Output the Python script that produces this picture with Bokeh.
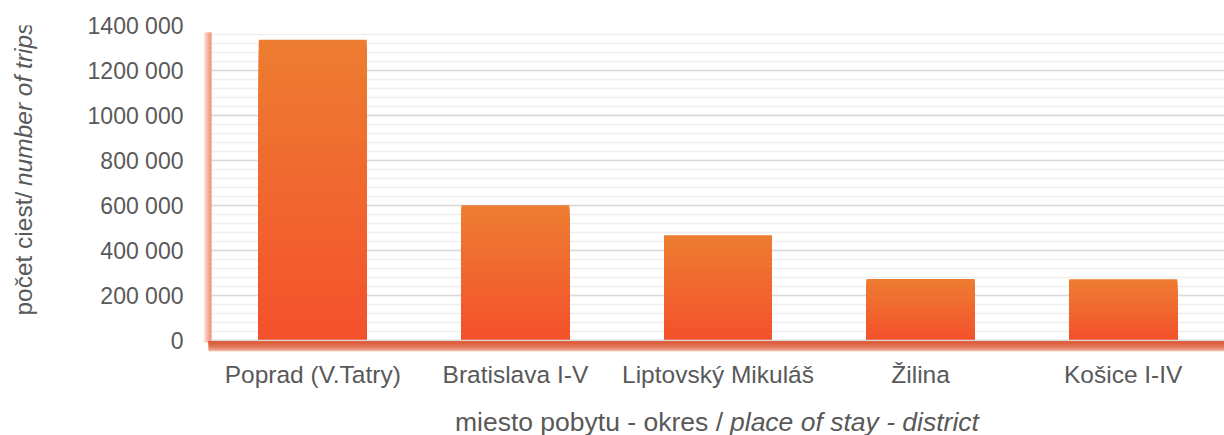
import math
from bokeh.plotting import figure
from bokeh.models import Range1d, FixedTicker
from bokeh.layouts import row, column
from bokeh.core.properties import value
from bokeh.embed import file_html
from bokeh.resources import INLINE

# ---------------- data ----------------
categories = ["Poprad (V.Tatry)", "Bratislava I-V", "Liptovský Mikuláš", "Žilina", "Košice I-IV"]
trips = [1337000, 601000, 468000, 274000, 272000]
y_ticks = [0, 200000, 400000, 600000, 800000, 1000000, 1200000, 1400000]
y_tick_labels = ["0", "200 000", "400 000", "600 000", "800 000", "1000 000", "1200 000", "1400 000"]
y_title_normal = "počet ciest/"
y_title_italic = "number of trips"
x_title_normal = "miesto pobytu - okres /"
x_title_italic = "place of stay - district"

# ---------------- geometry / style ----------------
TOTAL_W, TOTAL_H = 1224, 435
YT_W = 45                 # width of the y-title strip
XT_H = 45                 # height of the x-title strip
W, H = TOTAL_W - YT_W, TOTAL_H - XT_H
BORDER_L, BORDER_T = 203 - YT_W, 25
FRAME_BOTTOM = 353
BORDER_B = H - FRAME_BOTTOM
GLOW_PX = 8
BAND_PX = 11
FONT = "Liberation Sans"
TXT = "#595959"
TOP_C = (0xED, 0x7D, 0x31)
BOT_C = (0xF4, 0x51, 0x2C)

n = len(categories)
frame_w = W - BORDER_L
frame_h = H - BORDER_T - BORDER_B
ppx = 202.6                                    # px per category
upp = y_ticks[-1] / (frame_h - BAND_PX)        # data units per px (y)
x0 = -0.5 - GLOW_PX / ppx
x1 = x0 + frame_w / ppx
y0 = -BAND_PX * upp
y1 = y_ticks[-1]

p = figure(width=W, height=H, output_backend="svg", toolbar_location=None, title=None,
           x_range=Range1d(x0, x1), y_range=Range1d(y0, y1),
           min_border_left=BORDER_L, min_border_right=0,
           min_border_top=BORDER_T, min_border_bottom=BORDER_B)
p.outline_line_color = None
p.background_fill_color = "white"
p.border_fill_color = "white"

# grid
p.xgrid.grid_line_color = None
p.yaxis.ticker = FixedTicker(ticks=y_ticks, minor_ticks=list(range(0, y_ticks[-1] + 1, 40000)))
p.ygrid.grid_line_color = "#D9D9D9"
p.ygrid.grid_line_width = 1.5
p.ygrid.minor_grid_line_color = "#EFEFEF"
p.ygrid.minor_grid_line_width = 1.5

# axes
p.yaxis.major_label_overrides = {t: l for t, l in zip(y_ticks, y_tick_labels)}
p.xaxis.ticker = FixedTicker(ticks=list(range(n)))
p.xaxis.major_label_overrides = {i: c for i, c in enumerate(categories)}
for ax in (p.xaxis, p.yaxis):
    ax.axis_line_color = None
    ax.major_tick_line_color = None
    ax.minor_tick_line_color = None
    ax.major_label_text_font = FONT
    ax.major_label_text_color = TXT
p.yaxis.major_label_text_font_size = "23px"
p.yaxis.major_label_standoff = 14
p.xaxis.major_label_text_font_size = "24.5px"
p.xaxis.major_label_standoff = 3

# white mask over grid in glow strip
p.quad(left=[x0], right=[-0.5], bottom=[y0], top=[y1], fill_color="white", line_color=None)

# left glow (overlapping layers -> stronger near the plot edge)
for k in range(GLOW_PX):
    p.quad(left=[-0.5 - (k + 1) / ppx], right=[-0.5], bottom=[-2 * upp], top=[y1 - 7 * upp],
           fill_color="#EC6340", fill_alpha=0.13, line_color=None)

# gradient bars (stacked overlapping layers, each drawn from 0 to its top)
NSEG = 60
for s in range(NSEG):
    f = s / (NSEG - 1)
    col = "#%02x%02x%02x" % tuple(int(round(TOP_C[j] + (BOT_C[j] - TOP_C[j]) * f)) for j in range(3))
    p.vbar(x=list(range(n)), width=0.533, bottom=0,
           top=[v * (1 - s / NSEG) for v in trips], fill_color=col, line_color=None)

# baseline
p.segment(x0=[-0.5], x1=[x1], y0=[0], y1=[0], line_color="#D9D9D9", line_width=1.5)

# bottom red band (overlapping layers)
for k in range(BAND_PX):
    p.quad(left=[-0.5 - 3 / ppx], right=[x1], top=[-0.8 * upp], bottom=[-(k + 1.8) * upp],
           fill_color="#D9502C", fill_alpha=0.22, line_color=None)


def strip(width, height, yr):
    f = figure(width=width, height=height, output_backend="svg", toolbar_location=None, title=None,
               x_range=Range1d(0, width), y_range=yr,
               min_border=0, min_border_left=0, min_border_right=0,
               min_border_top=0, min_border_bottom=0)
    f.axis.visible = False
    f.grid.visible = False
    f.outline_line_color = None
    f.background_fill_color = "white"
    f.border_fill_color = "white"
    return f


# y-axis title strip: its frame is aligned with the main frame in the row,
# so map data y = H - (px from top)
YT_FS = 24.5
w_norm = 4.78 * YT_FS      # approx. rendered length of the upright part
w_ital = 6.67 * YT_FS      # approx. rendered length of the italic part
yt = strip(YT_W, H, Range1d(H - FRAME_BOTTOM, H - BORDER_T))
junction = 186             # px from top where the italic part begins
yt.text(x=[23], y=[H - (junction - w_ital / 2)], text=[y_title_italic], angle=math.pi / 2,
        text_align="center", text_baseline="middle", text_font=value(FONT),
        text_font_style="italic", text_font_size=f"{YT_FS}px", text_color=TXT)
yt.text(x=[23], y=[H - (junction + 10 + w_norm / 2)], text=[y_title_normal], angle=math.pi / 2,
        text_align="center", text_baseline="middle", text_font=value(FONT),
        text_font_size=f"{YT_FS}px", text_color=TXT)

# x-axis title strip (two styles)
xt = strip(TOTAL_W, XT_H, Range1d(0, XT_H))
xc = 203 + GLOW_PX + (n / 2) * ppx
xy = TOTAL_H - 421
xt.text(x=[xc + 5], y=[xy], text=[x_title_normal], text_align="right", text_baseline="middle",
        text_font=value(FONT), text_font_size="26.5px", text_color=TXT)
xt.text(x=[xc + 12], y=[xy], text=[x_title_italic], text_align="left", text_baseline="middle",
        text_font=value(FONT), text_font_style="italic", text_font_size="26.5px", text_color=TXT)

layout = column(row(yt, p, spacing=0), xt, spacing=0)
open("out.html", "w").write(file_html(layout, INLINE))
